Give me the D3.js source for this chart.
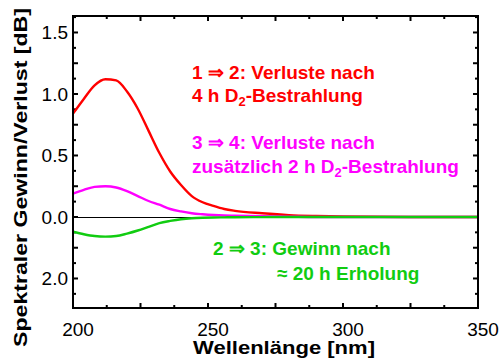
<!DOCTYPE html>
<html>
  <head>
    <meta charset="utf-8">
    <title>Spektraler Gewinn/Verlust</title>
    <script src="https://cdn.jsdelivr.net/npm/d3@7"></script>
    <style>
      body
      {
        margin: 0px;
        padding: 0px;
        background: white;
        font-family: "Liberation Sans", Arial, sans-serif;
      }

      .frame
      {
        fill: none;
        stroke: black;
        stroke-width: 2px;
      }

      .tick line
      {
        stroke: black;
        stroke-width: 2px;
      }

      .tickLabel
      {
        font-size: 19px;
        fill: black;
      }

      .axisTitle
      {
        font-size: 19px;
        font-weight: bold;
        fill: black;
      }

      .note
      {
        font-size: 19px;
        font-weight: bold;
      }

      .curve
      {
        fill: none;
        stroke-width: 2.4px;
        stroke-linejoin: round;
      }
    </style>
  </head>
  <body>
    <svg id="chart"></svg>

    <script>

      //--- Data
      var wavelengths = [200, 204, 208, 212, 216, 220, 224, 228, 232, 236, 240, 244, 248, 252, 256, 260, 270, 280, 290, 300, 325, 350];
      var loss12 =      [0.84, 0.96, 1.07, 1.12, 1.11, 1.02, 0.88, 0.70, 0.52, 0.37, 0.26, 0.17, 0.12, 0.09, 0.065, 0.05, 0.03, 0.015, 0.008, 0.004, 0.0, 0.0];
      var loss34 =      [0.19, 0.22, 0.245, 0.25, 0.24, 0.21, 0.17, 0.13, 0.10, 0.065, 0.045, 0.03, 0.022, 0.016, 0.012, 0.01, 0.006, 0.003, 0.0, 0.0, 0.0, 0.0];
      var gain23 =      [-0.12, -0.14, -0.155, -0.16, -0.155, -0.135, -0.11, -0.08, -0.05, -0.032, -0.018, -0.01, -0.006, -0.004, -0.003, -0.002, -0.001, 0.0, 0.0, 0.0, 0.0, 0.0];

      var xTicks = [200, 250, 300, 350];
      var yTicks = [1.5, 1.0, 0.5, 0.0, -0.5];
      var yTickLabels = ["1.5", "1.0", "0.5", "0.0", "2.0"];

      var series = [
        { name: "1-2", color: "#ff0000", values: loss12 },
        { name: "3-4", color: "#ff00ff", values: loss34 },
        { name: "2-3", color: "#11cc11", values: gain23 }
      ];

      var chartWidth = 502, chartHeight = 363;
      var plotLeft = 73, plotRight = 478, plotTop = 16, plotBottom = 308;

      var svg = d3.select("#chart")
          .attr("width", chartWidth)
          .attr("height", chartHeight);

      var x = d3.scaleLinear().domain([200, 350]).range([plotLeft, plotRight]);
      var y = d3.scaleLinear().domain([-0.74, 1.634]).range([plotBottom, plotTop]);

      //--- Minor ticks every 12.5 nm / 0.125 dB, longer every second one
      var xMinor = d3.range(200, 350.1, 12.5);
      var yMinor = d3.range(-0.625, 1.634, 0.125);

      function tickLen(i) { return i % 2 == 0 ? 5 : 3; }

      var ticks = svg.append("g").attr("class", "tick");

      xMinor.forEach(function (v, i)
      {
        ticks.append("line")
          .attr("x1", x(v)).attr("x2", x(v))
          .attr("y1", plotBottom).attr("y2", plotBottom - tickLen(i));
        ticks.append("line")
          .attr("x1", x(v)).attr("x2", x(v))
          .attr("y1", plotTop).attr("y2", plotTop + tickLen(i));
      });

      yMinor.forEach(function (v, i)
      {
        var l = tickLen(i + 1);
        ticks.append("line")
          .attr("x1", plotLeft).attr("x2", plotLeft + l)
          .attr("y1", y(v)).attr("y2", y(v));
        ticks.append("line")
          .attr("x1", plotRight).attr("x2", plotRight - l)
          .attr("y1", y(v)).attr("y2", y(v));
      });

      //--- Zero line
      svg.append("line")
        .attr("x1", plotLeft).attr("x2", plotRight)
        .attr("y1", Math.round(y(0)) + 0.5).attr("y2", Math.round(y(0)) + 0.5)
        .attr("stroke", "black")
        .attr("stroke-width", 1)
        .attr("shape-rendering", "crispEdges");

      //--- Curves
      var line = d3.line()
        .x((d, i) => x(wavelengths[i]))
        .y(d => y(d))
        .curve(d3.curveMonotoneX);

      svg.selectAll(".curve")
        .data(series)
        .enter()
          .append("path")
            .classed("curve", true)
            .attr("stroke", d => d.color)
            .attr("d", d => line(d.values));

      //--- Frame
      svg.append("rect")
        .classed("frame", true)
        .attr("x", plotLeft).attr("y", plotTop)
        .attr("width", plotRight - plotLeft).attr("height", plotBottom - plotTop);

      //--- Tick labels
      svg.selectAll(".xLabel")
        .data(xTicks)
        .enter()
          .append("text")
            .classed("tickLabel", true)
            .attr("x", d => x(d) + 5)
            .attr("y", 336)
            .attr("text-anchor", "middle")
            .text(d => d);

      svg.selectAll(".yLabel")
        .data(yTicks)
        .enter()
          .append("text")
            .classed("tickLabel", true)
            .attr("x", 68)
            .attr("y", d => y(d) + 7)
            .attr("text-anchor", "end")
            .text((d, i) => yTickLabels[i]);

      //--- Axis titles (original font is wider, so stretch)
      svg.append("text")
        .classed("axisTitle", true)
        .attr("x", 193)
        .attr("y", 354)
        .attr("font-size", "18px")
        .attr("textLength", 182)
        .attr("lengthAdjust", "spacingAndGlyphs")
        .text("Wellenlänge [nm]");

      svg.append("text")
        .classed("axisTitle", true)
        .attr("transform", "translate(27,347) rotate(-90)")
        .attr("textLength", 339)
        .attr("lengthAdjust", "spacingAndGlyphs")
        .text("Spektraler Gewinn/Verlust [dB]");

      //--- Annotations
      function note(px, py, color, parts)
      {
        var t = svg.append("text")
          .classed("note", true)
          .attr("x", px)
          .attr("y", py)
          .attr("fill", color);
        parts.forEach(function (p)
        {
          var s = t.append("tspan").text(p.text);
          if (p.sub)
            s.attr("font-size", "13px").attr("baseline-shift", "-4");
        });
      }

      note(192, 79, "#ff0000", [{ text: "1 \u21D2 2: Verluste nach" }]);
      note(192, 102, "#ff0000", [{ text: "4 h D" }, { text: "2", sub: true }, { text: "-Bestrahlung" }]);
      note(192, 149, "#ff00ff", [{ text: "3 \u21D2 4: Verluste nach" }]);
      note(192, 173, "#ff00ff", [{ text: "zusätzlich 2 h D" }, { text: "2", sub: true }, { text: "-Bestrahlung" }]);
      note(213, 255, "#11cc11", [{ text: "2 \u21D2 3: Gewinn nach" }]);
      note(277, 280, "#11cc11", [{ text: "\u2248 20 h Erholung" }]);

    </script>
  </body>
</html>
